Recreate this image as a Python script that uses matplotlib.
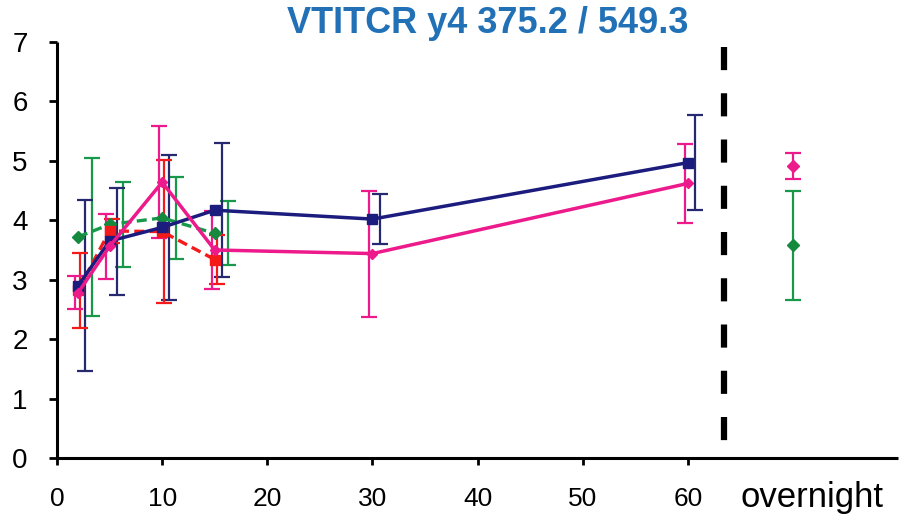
import matplotlib
matplotlib.use("Agg")
import matplotlib.pyplot as plt
import matplotlib.transforms as mtransforms

plt.rcParams['font.family'] = ['Liberation Sans', 'DejaVu Sans']

# ---- data ----
times = [2, 5, 10, 15, 30, 60]
navy_y = [2.90, 3.65, 3.88, 4.17, 4.02, 4.97]
navy_err = [1.44, 0.90, 1.22, 1.13, 0.42, 0.80]
pink_y = [2.78, 3.56, 4.64, 3.50, 3.44, 4.62]
pink_err = [0.28, 0.55, 0.94, 0.65, 1.06, 0.67]

early_times = [2, 5, 10, 15]
red_y = [2.82, 3.82, 3.81, 3.34]
red_err = [0.63, 0.20, 1.21, 0.41]
green_y = [3.72, 3.93, 4.04, 3.78]
green_err = [1.33, 0.71, 0.69, 0.54]

overnight_x = 70
pink_overnight, pink_overnight_err = 4.92, 0.22
green_overnight, green_overnight_err = 3.58, 0.92

xtick_values = [0, 10, 20, 30, 40, 50, 60]
xtick_labels = ['0', '10', '20', '30', '40', '50', '60']
ytick_values = [0, 1, 2, 3, 4, 5, 6, 7]
title = "VTITCR y4 375.2 / 549.3"

# ---- style ----
NAVY = '#1c1c7e'
NAVY_E = '#26296f'
PINK = '#ec1a8a'
RED = '#f51a1a'
GREEN = '#18994a'
GREEN_M = '#158a3e'

fig = plt.figure(figsize=(8.99, 5.17), dpi=100)
ax = fig.add_axes([57 / 899, 1 - 458 / 517, 1 - 57 / 899 - 0.001, (458 - 42) / 517])

ekw = dict(fmt='none', capsize=5.5, elinewidth=1.6, capthick=1.6)

def shifted(xs, d):
    return [x + d for x in xs]

# error bars (slightly offset like the original)
ax.errorbar(shifted(early_times, 1.3), green_y, yerr=green_err, ecolor=GREEN, zorder=2, **ekw)
ax.errorbar(shifted(times, 0.7), navy_y, yerr=navy_err, ecolor=NAVY_E, zorder=2, **ekw)
ax.errorbar(shifted(early_times, 0.2), red_y, yerr=red_err, ecolor=RED, zorder=2, **ekw)
ax.errorbar(shifted(times, -0.3), pink_y, yerr=pink_err, ecolor=PINK, zorder=2, **ekw)
ax.errorbar([overnight_x], [green_overnight], yerr=[green_overnight_err], ecolor=GREEN, zorder=2, **ekw)
ax.errorbar([overnight_x], [pink_overnight], yerr=[pink_overnight_err], ecolor=PINK, zorder=2, **ekw)

# lines
ax.plot(early_times, green_y, color=GREEN, lw=2.4, ls=(0, (3, 1.6)), marker='D',
        markersize=6.5, markerfacecolor=GREEN_M, markeredgecolor=GREEN_M, zorder=3)
ax.plot(times, navy_y, color=NAVY, lw=2.5, marker='s', markersize=7.5,
        markerfacecolor=NAVY, markeredgecolor=NAVY, zorder=4)
ax.plot(early_times, red_y, color=RED, lw=2.4, ls=(0, (3, 1.6)), marker='s', markersize=7,
        markerfacecolor=RED, markeredgecolor=RED, zorder=3)
ax.plot(times, pink_y, color=PINK, lw=2.5, marker='D', markersize=5.5,
        markerfacecolor=PINK, markeredgecolor=PINK, zorder=5)
ax.plot([overnight_x], [green_overnight], ls='none', marker='D', markersize=6.5,
        color=GREEN_M, zorder=5)
ax.plot([overnight_x], [pink_overnight], ls='none', marker='D', markersize=6,
        color=PINK, zorder=5)

# dashed separator
ax.plot([63.4, 63.4], [6.92, 0.19], color='black', lw=4.5, dashes=(3.7, 3.7),
        solid_capstyle='butt', dash_capstyle='butt', zorder=6)

ax.set_xlim(0, 80)
ax.set_ylim(0, 7)
ax.set_xticks(xtick_values)
ax.set_xticklabels(xtick_labels)
ax.set_yticks(ytick_values)

for s in ['top', 'right']:
    ax.spines[s].set_visible(False)
for s in ['left', 'bottom']:
    ax.spines[s].set_linewidth(2.2)
    ax.spines[s].set_capstyle('butt')

ax.tick_params(axis='y', direction='out', length=6, width=2, labelsize=20, pad=15)
ax.tick_params(axis='x', direction='out', length=5, width=2, labelsize=19, pad=16)

trans = mtransforms.blended_transform_factory(ax.transData, ax.transAxes)
ax.text(71.8, (458 - 507) / 416, "overnight", transform=trans, ha='center',
        va='baseline', fontsize=25)

fig.text(488 / 899, 1 - 33 / 517, title, ha='center', va='baseline',
         fontsize=26, fontweight='bold', color='#2271b6')

fig.savefig('out.png', dpi=100)
